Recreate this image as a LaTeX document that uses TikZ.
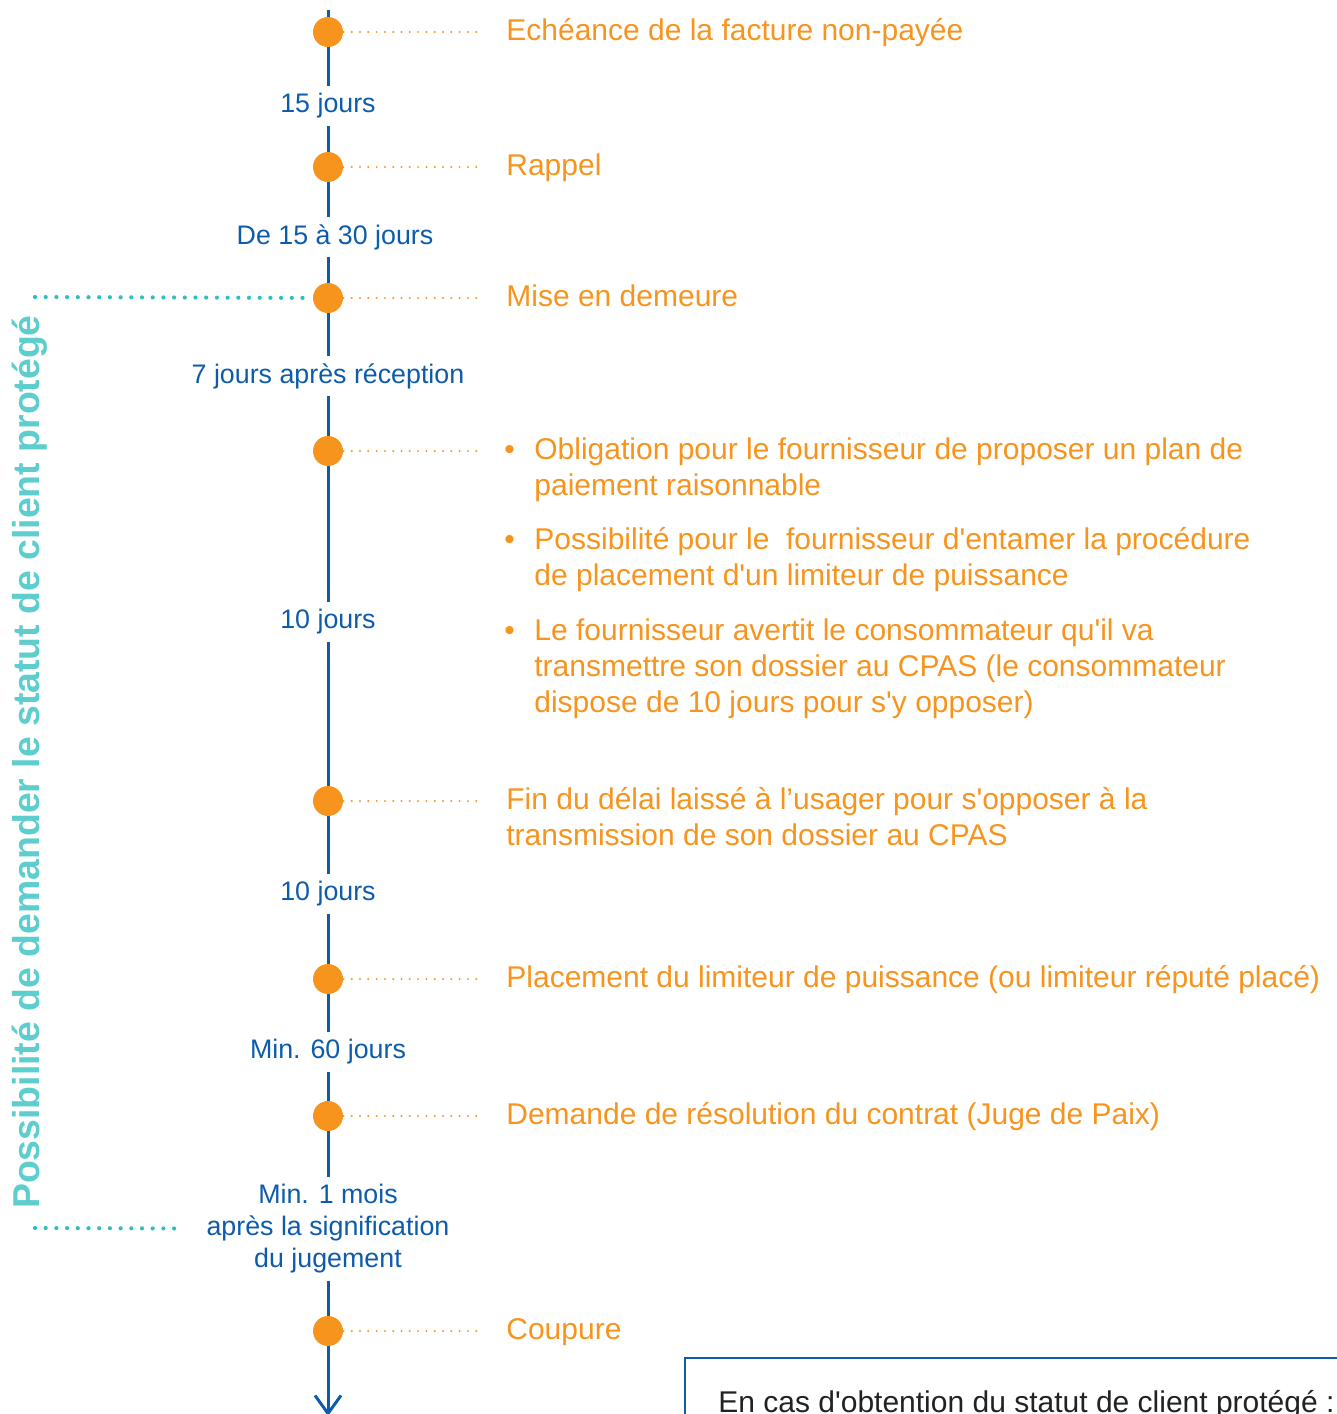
\documentclass[tikz,border=0pt]{standalone}
\usepackage{fontspec}
\setmainfont{Liberation Sans}
\usetikzlibrary{arrows.meta}
\definecolor{orng}{HTML}{F7941E}
\definecolor{dblue}{HTML}{0D5CAB}
\definecolor{tealdot}{HTML}{2EBFC2}
\definecolor{tealtxt}{HTML}{5DCDCD}
\definecolor{boxtxt}{HTML}{222222}
\newcommand{\ap}{\textquotesingle}
\begin{document}
\begin{tikzpicture}[x=0.5pt,y=-0.5pt,
    stop/.style={circle,fill=orng,inner sep=0pt,minimum size=15pt},
    delay/.style={text=dblue,align=center,inner xsep=2pt,inner ysep=3.5pt,
      font=\fontsize{13.4}{16}\selectfont},
    event/.style={text=orng,anchor=mid west,align=left,inner sep=0pt,
      font=\fontsize{15}{18}\selectfont},
    axis/.style={dblue,line width=1.5pt},
    odots/.style={orng,line width=1.1pt,line cap=round,dash pattern=on 0pt off 4.15pt},
    tdots/.style={tealdot,line width=2.1pt,line cap=round,dash pattern=on 0pt off 5.35pt}]
    \clip (0,0) rectangle (1337,1414);
    \useasboundingbox (0,0) rectangle (1337,1414);
    % timeline
    \coordinate (top) at (328,10);
    \coordinate (bot) at (328,1416);
    \node [delay] (l1) at (328,106) {15 jours};
    \node [delay] (l2) at (335,237) {De 15 à 30 jours};
    \node [delay] (l3) at (328,376) {7 jours après réception};
    \node [delay] (l4) at (328,622) {10 jours};
    \node [delay] (l5) at (328,894) {10 jours};
    \node [delay] (l6) at (328,1052) {Min. 60 jours};
    \node [delay] (l7) at (328,1229) {Min. 1 mois\\après la signification\\du jugement};
    \foreach \y [count=\i] in {32,167,298,451,801,979,1116,1331}
      \coordinate (p\i) at (328,\y);
    \foreach \a/\b in {top/p1,p1/l1,l1/p2,l3/p4,p4/l4,l4/p5,p5/l5,l5/p6,p6/l6,l6/p7,p7/l7,l7/p8}
      \draw [axis] (\a) -- (\b);
    \draw [axis] (p2) -- (p2 |- l2.north);
    \draw [axis] (p3 |- l2.south) -- (p3) -- (l3);
    \draw [axis,-{Straight Barb[length=9pt,width=13pt,line width=1.5pt]}] (p8) -- (bot);
    % stops
    \foreach \i in {1,...,8}
      \node [stop] (d\i) at (p\i) {};
    % events
    \node [event] (t1) at (506,35) {Echéance de la facture non-payée};
    \node [event] (t2) at (506,170) {Rappel};
    \node [event] (t3) at (506,301) {Mise en demeure};
    \node [event] (t4) at (504,454) {•};
    \node [event] (t4a) at (534,490) {Obligation pour le fournisseur de proposer un plan de\\paiement raisonnable};
    \node [event] (t4b) at (504,544) {•};
    \node [event] (t4c) at (534,580) {Possibilité pour le \ fournisseur d\ap entamer la procédure\\de placement d\ap un limiteur de puissance};
    \node [event] (t4d) at (504,635) {•};
    \node [event] (t4e) at (534,707) {Le fournisseur avertit le consommateur qu\ap il va\\transmettre son dossier au CPAS (le consommateur\\dispose de 10 jours pour s\ap y opposer)};
    \node [event] (t5) at (506,840) {Fin du délai laissé à l’usager pour s\ap opposer à la\\transmission de son dossier au CPAS};
    \node [event] (t6) at (506,982) {Placement du limiteur de puissance (ou limiteur réputé placé)};
    \node [event] (t7) at (506,1119) {Demande de résolution du contrat (Juge de Paix)};
    \node [event] (t8) at (506,1334) {Coupure};
    \foreach \i/\y in {1/32,2/167,3/298,4/451,5/801,6/979,7/1116,8/1331}{
      \coordinate (e\i) at (483,\y);
      \draw [odots] (d\i) -- (e\i);
    }
    % protected client period
    \coordinate (c1) at (35,297);
    \coordinate (c2) at (35,1228);
    \draw [tdots] (c1) -- (d3);
    \draw [tdots,shorten >=11pt] (c2) -- (l7);
    \node [rotate=90,text=tealtxt,inner sep=0pt,font=\fontsize{18.7}{22}\selectfont\bfseries] (side) at (30,762) {Possibilité de demander le statut de client protégé};
    % note box
    \draw [dblue,line width=1.3pt] (685,1358) rectangle (1360,1480);
    \node [anchor=base west,inner sep=0pt,text=boxtxt,font=\fontsize{15}{18}\selectfont] (note) at (718,1412) {En cas d\ap obtention du statut de client protégé :};
\end{tikzpicture}
\end{document}
